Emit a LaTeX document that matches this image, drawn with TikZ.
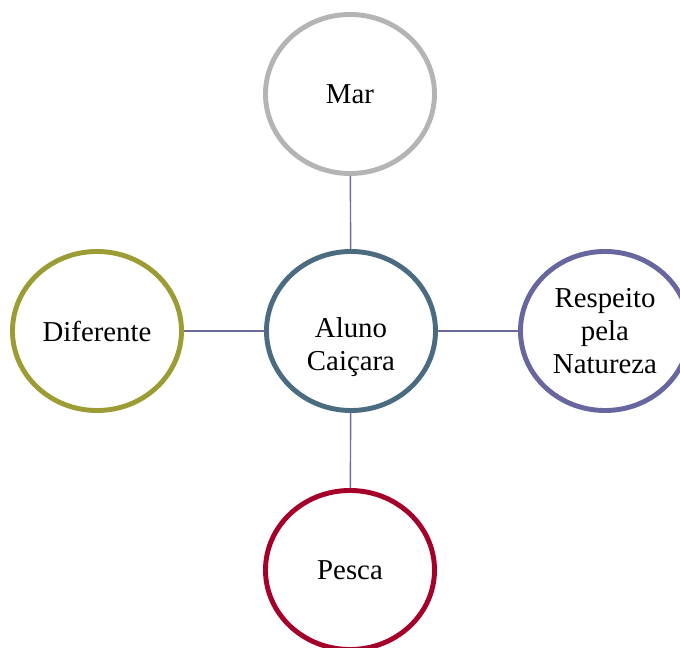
\documentclass[tikz,border=0pt]{standalone}
\usepackage{fontspec}
\setmainfont{Liberation Serif}
\usetikzlibrary{shapes.geometric, positioning}

\definecolor{margray}{HTML}{B4B4B4}
\definecolor{alunoblue}{HTML}{4A6B80}
\definecolor{difolive}{HTML}{9C9C34}
\definecolor{natpurple}{HTML}{67669E}
\definecolor{pescared}{HTML}{A5002A}
\definecolor{linkcol}{HTML}{6B6B9E}

\tikzset{
    bubble/.style={ellipse, draw, line width=3.5pt, fill=white,
        minimum width=4.225cm, minimum height=3.975cm, inner sep=0pt,
        align=center, font=\fontsize{20.5}{23.5}\selectfont},
    link/.style={draw=linkcol, line width=1pt}
}

\begin{document}
\begin{tikzpicture}[x=0.025cm, y=-0.025cm]
    \useasboundingbox (0,0) rectangle (680,648);

    % Circles
    \node[bubble, draw=alunoblue] (aluno) at (351,331) {\rule{0pt}{36.7pt}Aluno\\Caiçara};
    \node[bubble, draw=margray] (mar) at (350,94) {Mar};
    \node[bubble, draw=difolive] (dif) at (97,331) {Diferente};
    \node[bubble, draw=natpurple] (nat) at (605,331) {Respeito\\pela\\Natureza};
    \node[bubble, draw=pescared] (pesca) at (350,570) {Pesca};

    % Links
    \draw[link] (aluno) -- (mar);
    \draw[link] (aluno) -- (dif);
    \draw[link] (aluno) -- (nat);
    \draw[link] (aluno) -- (pesca);
\end{tikzpicture}
\end{document}
